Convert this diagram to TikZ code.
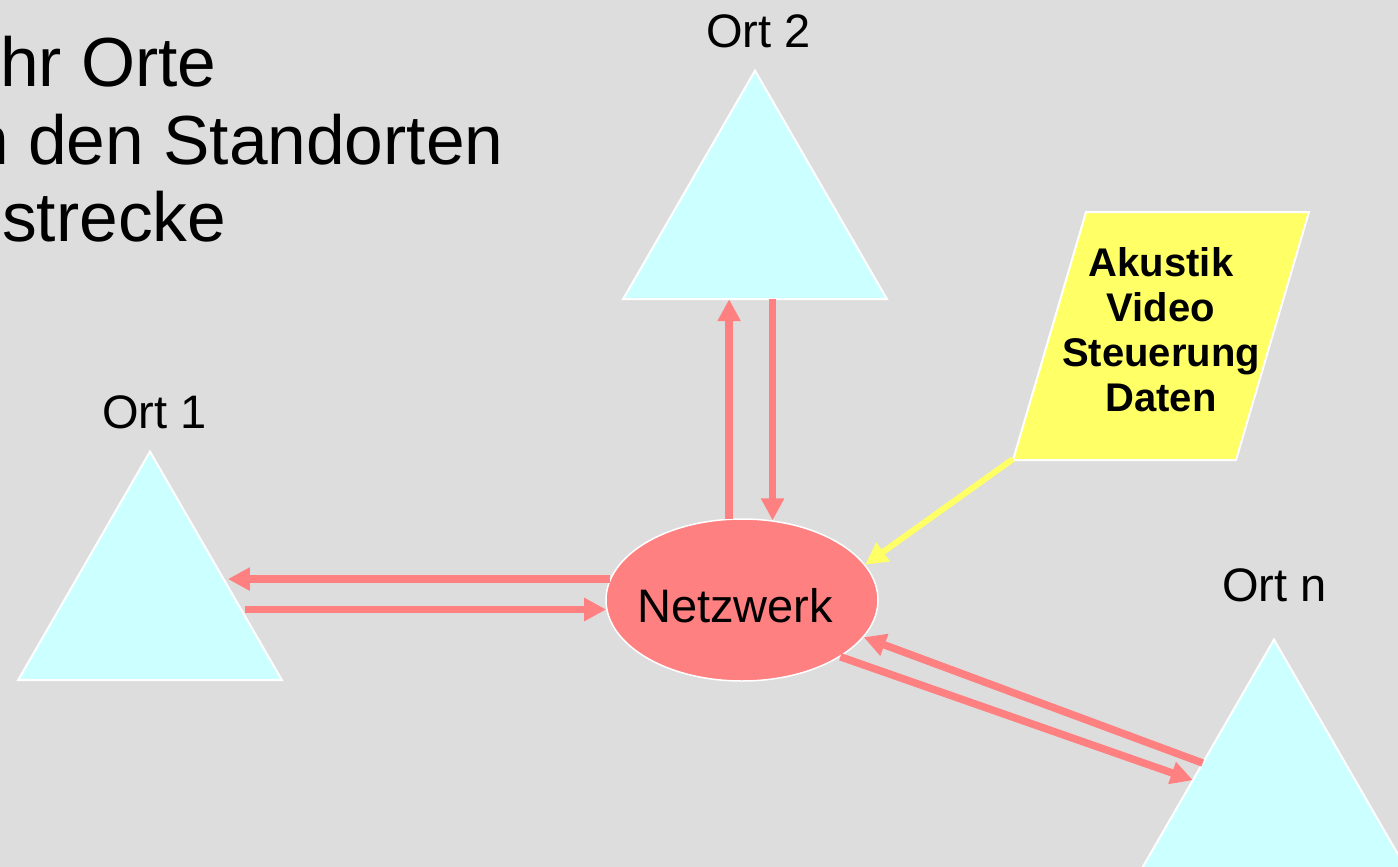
\documentclass[tikz,border=0pt]{standalone}
\usepackage{fontspec}
\setmainfont{Liberation Sans}
\usetikzlibrary{arrows.meta,shapes.geometric,calc}
\definecolor{bgc}{HTML}{DDDDDD}
\definecolor{cyanc}{HTML}{CCFFFF}
\definecolor{salmon}{HTML}{FF8080}
\definecolor{yellowc}{HTML}{FFFF66}
\tikzset{
  site/.style={regular polygon, regular polygon sides=3, minimum size=304.8pt,
    inner sep=0pt, outer sep=0pt, fill=cyanc, draw=white, line width=2pt},
  sitelabel/.style={anchor=base, inner sep=0pt, font=\fontsize{47}{56}\selectfont},
  titletext/.style={anchor=base west, inner sep=0pt, font=\fontsize{69.5}{80}\selectfont},
  arr/.style={draw=salmon, line width=7.5pt, -{Triangle[length=22pt,width=22pt]}},
  yarr/.style={draw=yellowc, line width=6pt, -{Triangle[length=22pt,width=22pt]}}
}
\begin{document}
\begin{tikzpicture}[x=1pt,y=-1pt]
\useasboundingbox (0,0) rectangle (1398,867);
\clip (0,0) rectangle (1398,867);
\fill[bgc] (0,0) rectangle (1398,867);

% title (cut off at the left)
\node[titletext] (title1) at (0,87) {hr Orte};
\node[titletext] (title2) at (-30,164) {n den Standorten};
\node[titletext] (title3) at (2,241) {strecke};

% sites
\node[site] (t2) at (755,223) {};
\node[site] (t1) at (150,604) {};
\node[site] (tn) at (1274,792) {};
\node[sitelabel] (l2) at (758.5,48) {Ort 2};
\node[sitelabel] (l1) at (154.5,428) {Ort 1};
\node[sitelabel] (ln) at (1274.5,601) {Ort n};

% network
\node[ellipse, minimum width=272pt, minimum height=162pt, inner sep=0pt,
  fill=salmon, draw=white, line width=1.5pt] (net) at (742,600) {};
\node[inner sep=0pt, font=\fontsize{47}{56}\selectfont] (nettext) at (735,605.5) {Netzwerk};

% info parallelogram
\draw[fill=yellowc, draw=white, line width=2pt]
  (1086,212) -- (1309,212) -- (1236,460) -- (1013,460) -- cycle;
\coordinate (pbl) at (1013,459);
\node[inner sep=0pt, anchor=north, align=center,
  font=\bfseries\fontsize{40}{45}\selectfont] (info) at (1161,247)
  {Akustik\\Video\\Steuerung\\Daten};

% edge points on triangles
\coordinate (e1u) at ($(t1.corner 1)!0.59!(t1.corner 3)$);
\coordinate (e1l) at ($(t1.corner 1)!0.72!(t1.corner 3)$);
\coordinate (enu) at ($(tn.corner 1)!0.54!(tn.corner 2)$);
\coordinate (enl) at ($(tn.corner 1)!0.615!(tn.corner 2)$);

% connectors
\draw[arr] (net.99) -- (net.99 |- t2.south);
\draw[arr] (t2.south -| net.69) -- (net.69);
\draw[arr] (net.171) -- (net.171 -| e1u);
\draw[arr] (e1l |- net.184) -- (net.184);
\draw[arr] (enu) -- (net.343);
\draw[arr] (net.330) -- (enl);
\draw[yarr] (pbl) -- (net.16);
\end{tikzpicture}
\end{document}
